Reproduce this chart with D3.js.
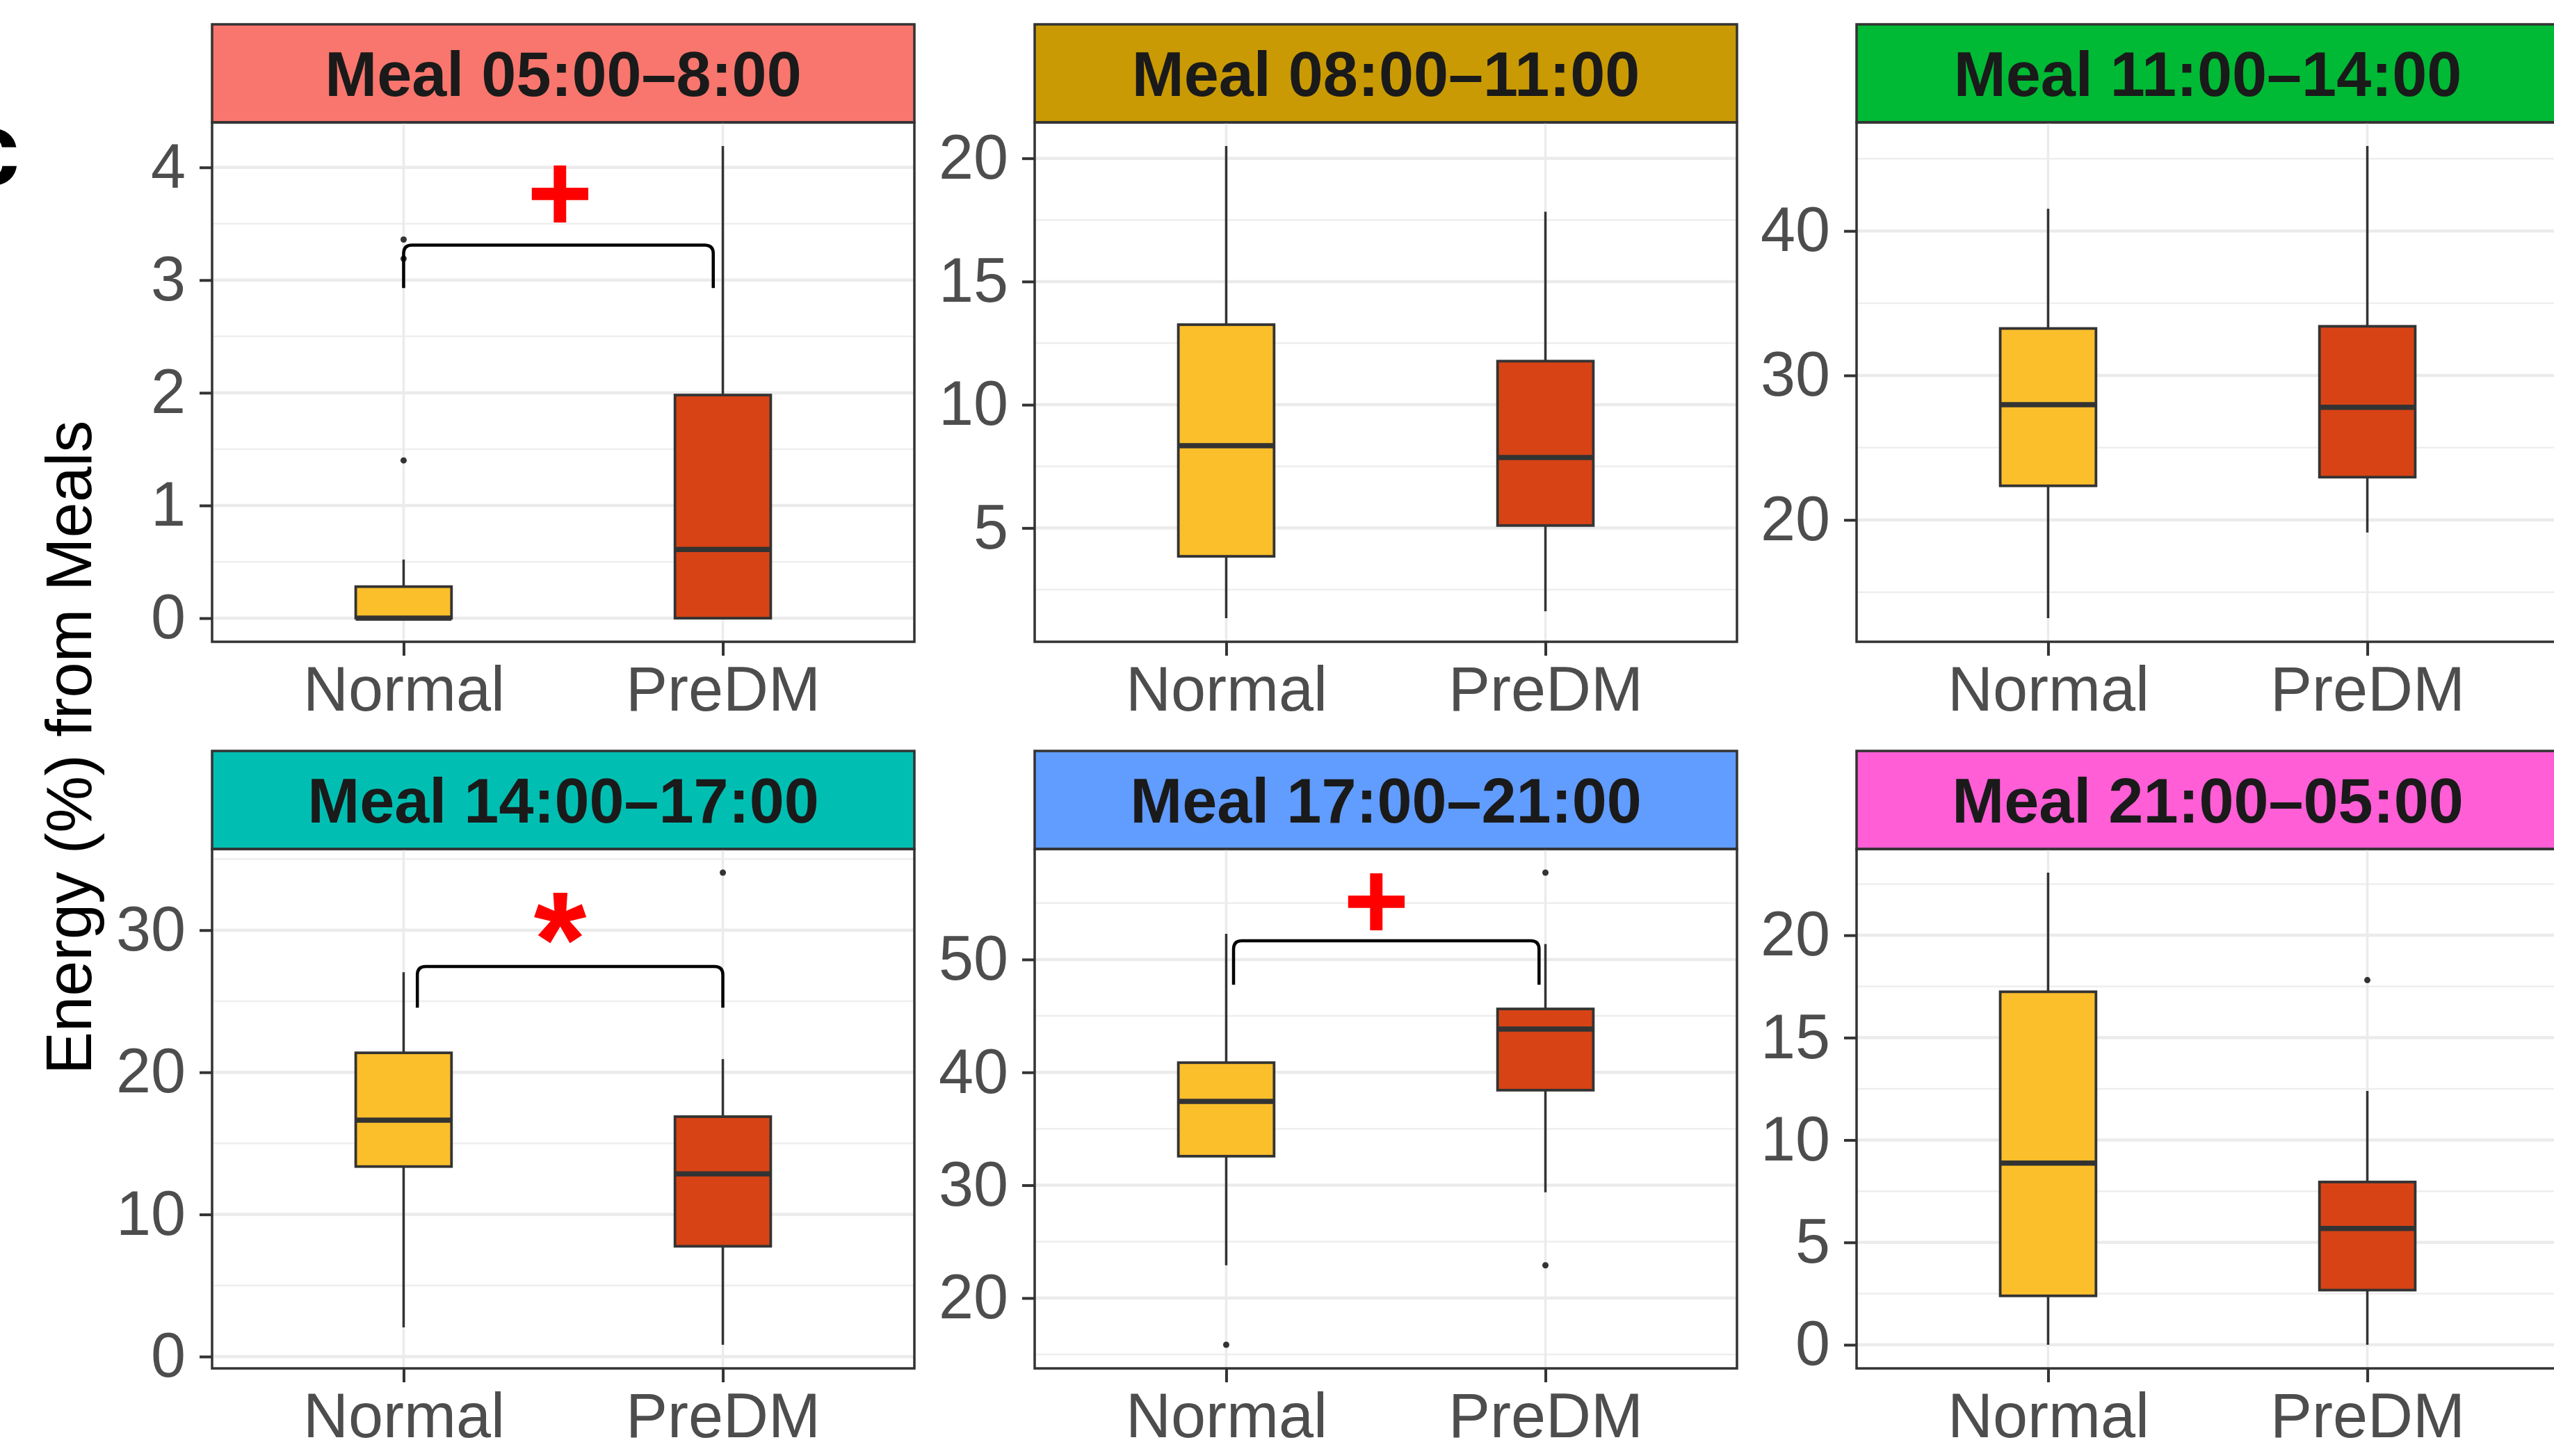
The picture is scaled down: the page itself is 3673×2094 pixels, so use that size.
<!DOCTYPE html>
<html>
<head>
<meta charset="utf-8">
<script src="https://cdn.jsdelivr.net/npm/d3@7"></script>
<style>
  html, body { margin: 0; padding: 0; background: #ffffff; overflow: hidden; }
  svg { display: block; font-family: "Liberation Sans", Arial, Helvetica, sans-serif; }
</style>
</head>
<body>
<svg id="chart" width="3673" height="2094"></svg>
<script>
// ---- data -------------------------------------------------------------
const meals = [
  "Meal 05:00\u20138:00", "Meal 08:00\u201311:00", "Meal 11:00\u201314:00",
  "Meal 14:00\u201317:00", "Meal 17:00\u201321:00", "Meal 21:00\u201305:00"
];
const groups = ["Normal", "PreDM"];

// box statistics per meal: [lower whisker, Q1, median, Q3, upper whisker]
const normalBox = [
  [0, 0, 0, 0.28, 0.52],
  [1.34, 3.85, 8.34, 13.25, 20.5],
  [13.2, 22.36, 27.98, 33.25, 41.54],
  [2.05, 13.37, 16.63, 21.37, 27.04],
  [22.9, 32.57, 37.43, 40.86, 52.28],
  [0, 2.39, 8.87, 17.24, 23.06]
];
const predmBox = [
  [0, 0, 0.61, 1.98, 4.19],
  [1.62, 5.1, 7.86, 11.77, 17.83],
  [19.13, 22.96, 27.8, 33.4, 45.88],
  [0.83, 7.76, 12.85, 16.88, 20.93],
  [29.37, 38.42, 43.84, 45.62, 51.37],
  [0, 2.67, 5.68, 7.95, 12.4]
];
const normalOutliers = [[1.40, 3.19, 3.36], [], [], [], [15.86], []];
const predmOutliers  = [[], [], [], [34.05], [57.7, 22.9], [17.81]];

// y-axis tick labels per meal
const yTicks = [
  [0, 1, 2, 3, 4],
  [5, 10, 15, 20],
  [20, 30, 40],
  [0, 10, 20, 30],
  [20, 30, 40, 50],
  [0, 5, 10, 15, 20]
];

// significance annotations (group positions: Normal = 1, PreDM = 2)
const sigMeal    = [0, 3, 4];
const sigSymbol  = ["+", "*", "+"];
const sigLeft    = [1.0, 1.043, 1.023];
const sigRight   = [1.97, 2.0, 1.98];
const sigTop     = [3.31, 27.44, 51.66];
const sigLegEnd  = [2.93, 24.54, 47.76];
const sigMarkX   = [1.49, 1.49, 1.47];
const sigMarkY   = [3.76, 31.4, 55.1];

// ---- styling ----------------------------------------------------------
const stripFill = ["#F8766D", "#C99A04", "#00B935", "#00BFB2", "#619CFF", "#FF5ED6"];
const boxFill = { Normal: "#FBBF2B", PreDM: "#D84315" };
const ink = "#333333";
const colLeft = [305, 1488, 2670];
const rowTop = [35, 1080];
const W = 1010, stripH = 141, plotH = 747;

const svg = d3.select("#chart");
svg.append("rect").attr("width", 3673).attr("height", 2094).attr("fill", "#ffffff");

// panel tag (sits partly past the left edge)
svg.append("text")
  .attr("x", -55).attr("y", 266)
  .attr("font-size", 150).attr("font-weight", "bold").attr("fill", "#000")
  .text("c");

// shared y-axis title
svg.append("text")
  .attr("transform", "translate(131,1075) rotate(-90)")
  .attr("text-anchor", "middle")
  .attr("font-size", 92).attr("fill", "#000")
  .text("Energy (%) from Meals");

meals.forEach((meal, i) => {
  const col = i % 3, row = Math.floor(i / 3);
  const g = svg.append("g").attr("transform", `translate(${colLeft[col]},${rowTop[row]})`);

  // strip
  g.append("rect").attr("width", W).attr("height", stripH)
    .attr("fill", stripFill[i]).attr("stroke", ink).attr("stroke-width", 3.5);
  g.append("text")
    .attr("x", W / 2).attr("y", stripH / 2 + 0.358 * 90)
    .attr("text-anchor", "middle").attr("font-size", 90).attr("font-weight", "bold")
    .attr("fill", "#1A1A1A").text(meal);

  const p = g.append("g").attr("transform", `translate(0,${stripH})`);

  // scales
  const values = [...normalBox[i], ...predmBox[i], ...normalOutliers[i], ...predmOutliers[i]];
  const lo = d3.min(values), hi = d3.max(values), pad = (hi - lo) * 0.05;
  const y = d3.scaleLinear().domain([lo - pad, hi + pad]).range([plotH, 0]);
  const x = d3.scalePoint().domain(groups).range([0, W]).padding(0.6);
  const xPos = d3.scaleLinear().domain([0.4, 2.6]).range([0, W]);
  const half = x.step() * 0.15;

  // grid
  const ticks = yTicks[i];
  const stepT = ticks[1] - ticks[0];
  const minor = d3.range(ticks[0] - stepT / 2, ticks[ticks.length - 1] + stepT, stepT)
    .filter(v => v > y.domain()[0] && v < y.domain()[1]);
  p.selectAll(".minor").data(minor).join("line")
    .attr("x1", 0).attr("x2", W).attr("y1", d => y(d)).attr("y2", d => y(d))
    .attr("stroke", "#EEEEEE").attr("stroke-width", 2.5);
  p.selectAll(".major").data(ticks).join("line")
    .attr("x1", 0).attr("x2", W).attr("y1", d => y(d)).attr("y2", d => y(d))
    .attr("stroke", "#EBEBEB").attr("stroke-width", 4.5);
  p.selectAll(".vgrid").data(groups).join("line")
    .attr("x1", d => x(d)).attr("x2", d => x(d)).attr("y1", 0).attr("y2", plotH)
    .attr("stroke", "#EBEBEB").attr("stroke-width", 3.5);

  // boxplots
  const boxes = [
    { grp: "Normal", s: normalBox[i], out: normalOutliers[i] },
    { grp: "PreDM", s: predmBox[i], out: predmOutliers[i] }
  ];
  boxes.forEach(b => {
    const cx = x(b.grp);
    const [wl, q1, md, q3, wh] = b.s;
    p.append("line").attr("x1", cx).attr("x2", cx).attr("y1", y(q3)).attr("y2", y(wh))
      .attr("stroke", ink).attr("stroke-width", 3.5);
    p.append("line").attr("x1", cx).attr("x2", cx).attr("y1", y(q1)).attr("y2", y(wl))
      .attr("stroke", ink).attr("stroke-width", 3.5);
    p.append("rect").attr("x", cx - half).attr("width", 2 * half)
      .attr("y", y(q3)).attr("height", Math.max(0, y(q1) - y(q3)))
      .attr("fill", boxFill[b.grp]).attr("stroke", ink).attr("stroke-width", 3.8);
    p.append("line").attr("x1", cx - half).attr("x2", cx + half)
      .attr("y1", y(md)).attr("y2", y(md))
      .attr("stroke", ink).attr("stroke-width", 7.5);
    p.selectAll(null).data(b.out).join("circle")
      .attr("cx", cx).attr("cy", d => y(d)).attr("r", 4.5).attr("fill", ink);
  });

  // significance bracket and symbol
  const k = sigMeal.indexOf(i);
  if (k >= 0) {
    const xl = xPos(sigLeft[k]), xr = xPos(sigRight[k]);
    const yt = y(sigTop[k]), yb = y(sigLegEnd[k]);
    const r = 12;
    p.append("path")
      .attr("d", `M${xl},${yb} L${xl},${yt + r} Q${xl},${yt} ${xl + r},${yt} L${xr - r},${yt} Q${xr},${yt} ${xr},${yt + r} L${xr},${yb}`)
      .attr("fill", "none").attr("stroke", "#000").attr("stroke-width", 4.5);
    const fs = sigSymbol[k] === "*" ? 195 : 162;
    const lift = sigSymbol[k] === "*" ? 0.56 : 0.33;
    p.append("text")
      .attr("x", xPos(sigMarkX[k])).attr("y", y(sigMarkY[k]) + lift * fs)
      .attr("text-anchor", "middle").attr("font-size", fs).attr("font-weight", "bold")
      .attr("fill", "#FF0000").text(sigSymbol[k]);
  }

  // panel border
  p.append("rect").attr("width", W).attr("height", plotH)
    .attr("fill", "none").attr("stroke", ink).attr("stroke-width", 3.5);

  // axes
  const ya = p.append("g").call(
    d3.axisLeft(y).tickValues(ticks).tickFormat(d3.format("d")).tickSize(18).tickPadding(20));
  const xa = p.append("g").attr("transform", `translate(0,${plotH})`)
    .call(d3.axisBottom(x).tickSize(20).tickPadding(15));
  [ya, xa].forEach(a => {
    a.select(".domain").remove();
    a.selectAll(".tick line").attr("stroke", ink).attr("stroke-width", 4);
    a.selectAll(".tick text").attr("fill", "#4D4D4D").attr("font-size", 90)
      .attr("font-family", "'Liberation Sans', Arial, Helvetica, sans-serif");
  });
});
</script>
</body>
</html>
